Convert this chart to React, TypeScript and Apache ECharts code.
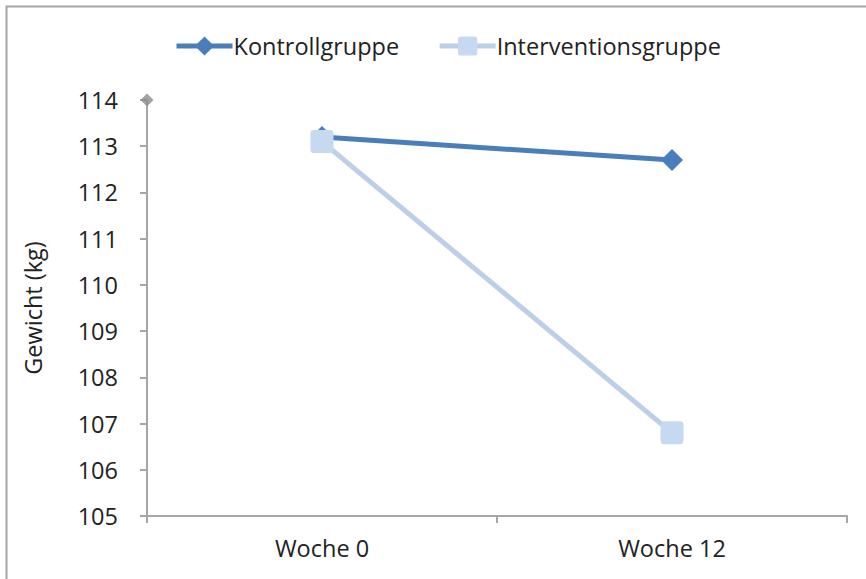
import React, { useEffect, useRef } from "react";
import * as echarts from "echarts";

const categories = ["Woche 0", "Woche 12"];
const kontrollValues = [113.2, 112.7];
const interventionValues = [113.1, 106.8];
const yMin = 105;
const yMax = 114;
const axisMarker = [[0, 114]];

export default function App() {
  const ref = useRef<HTMLDivElement>(null);
  useEffect(() => {
    if (!ref.current) return;
    const chart = echarts.init(ref.current, null, { renderer: "svg" });
    const font = "'Open Sans', Lato, sans-serif";
    chart.setOption({
      animation: false,
      backgroundColor: "#ffffff",
      textStyle: { fontFamily: font },
      graphic: [
        {
          type: "rect",
          shape: { x: 6.5, y: 6.5, width: 900, height: 700 },
          style: { fill: "none", stroke: "#a6a6a6", lineWidth: 2 },
          silent: true,
        },
      ],
      legend: {
        top: 29,
        left: 169,
        itemWidth: 56,
        itemHeight: 24,
        itemGap: 38,
        lineStyle: { width: 5 },
        textStyle: { fontSize: 23.5, color: "#222", fontFamily: font, padding: [0, 0, 0, -4] },
        data: ["Kontrollgruppe", "Interventionsgruppe"],
      },
      grid: { left: 147, right: 19, top: 100, bottom: 63 },
      xAxis: [
        {
          type: "category",
          data: categories,
          boundaryGap: true,
          axisLine: { lineStyle: { color: "#a6a6a6", width: 2 } },
          axisTick: { show: true, length: 7, lineStyle: { color: "#a6a6a6", width: 2 } },
          axisLabel: { fontSize: 23.5, color: "#222", margin: 20, fontFamily: font },
          splitLine: { show: false },
        },
        {
          type: "value",
          min: 0,
          max: 2,
          show: false,
        },
      ],
      yAxis: {
        type: "value",
        min: yMin,
        max: yMax,
        interval: 1,
        name: "Gewicht (kg)",
        nameLocation: "middle",
        nameGap: 102,
        nameRotate: 90,
        nameTextStyle: { fontSize: 23.5, color: "#222", fontFamily: font },
        axisLine: { show: true, lineStyle: { color: "#a6a6a6", width: 2 } },
        axisTick: { show: true, length: 7, lineStyle: { color: "#a6a6a6", width: 2 } },
        axisLabel: { fontSize: 23.5, color: "#222", margin: 29, fontFamily: font },
        splitLine: { show: false },
      },
      series: [
        {
          name: "Kontrollgruppe",
          type: "line",
          data: kontrollValues,
          symbol: "diamond",
          symbolSize: 22,
          lineStyle: { color: "#4a7ebb", width: 5 },
          itemStyle: { color: "#4a7ebb" },
          z: 2,
        },
        {
          name: "Interventionsgruppe",
          type: "line",
          data: interventionValues,
          symbol: "path://M3,0 H17 A3,3 0 0 1 20,3 V17 A3,3 0 0 1 17,20 H3 A3,3 0 0 1 0,17 V3 A3,3 0 0 1 3,0 Z",
          symbolSize: 23,
          lineStyle: { color: "#bccfe8", width: 5 },
          itemStyle: { color: "#c6d9f1" },
          z: 3,
        },
        {
          name: "marker",
          type: "scatter",
          xAxisIndex: 1,
          data: axisMarker,
          symbol: "diamond",
          symbolSize: 13,
          itemStyle: { color: "#8c8c8c" },
          z: 4,
        },
      ],
    });
    return () => chart.dispose();
  }, []);
  return (
    <div
      ref={ref}
      style={{ position: "fixed", left: 0, top: 0, width: 866, height: 579 }}
    />
  );
}
